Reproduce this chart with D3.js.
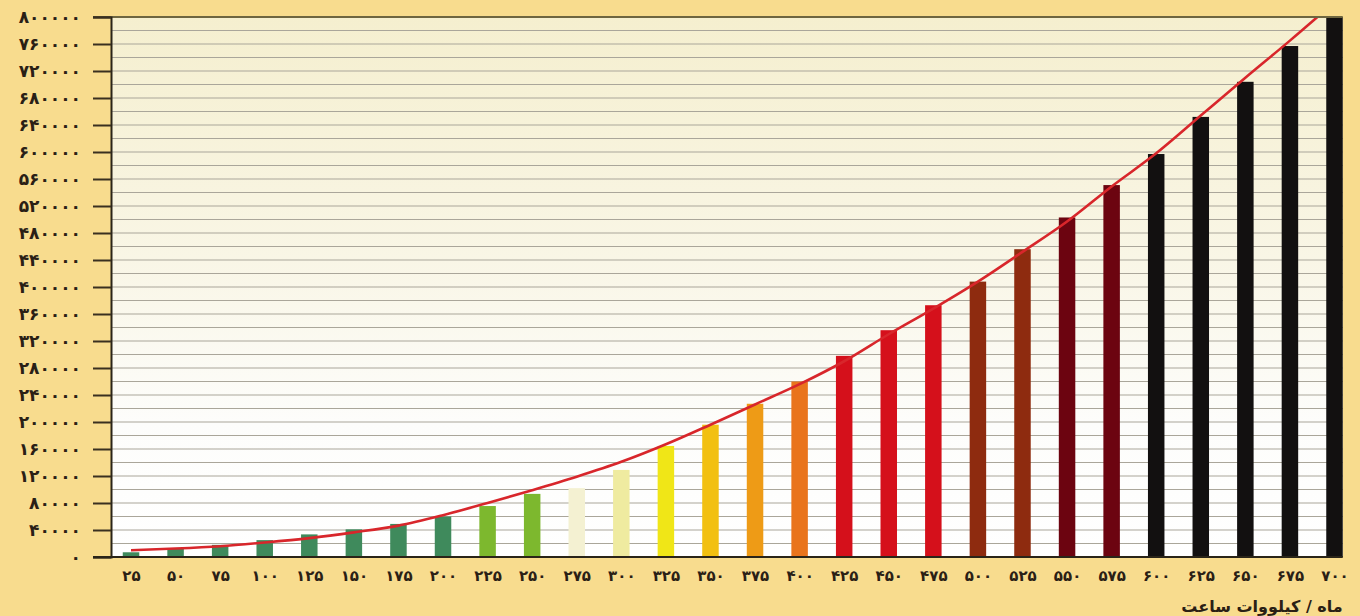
<!DOCTYPE html>
<html>
<head>
<meta charset="utf-8">
<script src="https://cdn.jsdelivr.net/npm/d3@7"></script>
<style>
  html, body { margin: 0; padding: 0; background: #f8dc8e; }
  svg { display: block; }
  text { font-family: "DejaVu Sans", "Noto Sans", sans-serif; font-weight: bold; fill: #2a2015; }
</style>
</head>
<body>
<svg id="chart" width="1360" height="616"></svg>
<script>
// ---- data ----
const categories = [25, 50, 75, 100, 125, 150, 175, 200, 225, 250, 275, 300, 325, 350,
                    375, 400, 425, 450, 475, 500, 525, 550, 575, 600, 625, 650, 675, 700];
const barValues = [7000, 12000, 18000, 25000, 33500, 41000, 49000, 60000, 75500, 93500,
                   102000, 129000, 164500, 196000, 227000, 260000, 298000, 336000, 373000, 408000,
                   456000, 503000, 551000, 597000, 652000, 704000, 757000, 800000];
const curveValues = [10000, 12500, 16000, 21500, 28000, 36500, 46500, 62000, 80000, 99000,
                     119000, 141000, 167000, 196000, 226000, 256000, 290000, 330000, 368000, 408000,
                     452000, 497000, 549000, 598000, 654000, 710000, 765000, 822000];
const barColors = ["#3f8a5c", "#3f8a5c", "#3f8a5c", "#3f8a5c", "#3f8a5c", "#3f8a5c", "#3f8a5c", "#3f8a5c",
                   "#7db82e", "#7db82e", "#f4f1d2", "#efeba0", "#f0e617", "#f2c011", "#ee9b16", "#e9741c",
                   "#d5101b", "#d5101b", "#d5101b", "#8e2b0f", "#8e2b0f", "#6c0410", "#6c0410",
                   "#121010", "#121010", "#121010", "#121010", "#121010"];
const yTicks = d3.range(0, 800001, 40000);
const yGrid = d3.range(0, 800001, 20000);
const axisTitle = "ماه / کیلووات ساعت";

// ---- helpers ----
const fa = s => String(s).replace(/\d/g, d => "۰۱۲۳۴۵۶۷۸۹"[d]);

// ---- layout ----
const svg = d3.select("#chart");
const plotLeft = 111, plotTop = 17, plotBottom = 557;

const x = d3.scalePoint().domain(categories).range([131, 1334.5]);
const barW = x.step() * 0.37;
const plotRight = x(700) + barW / 2;
const y = d3.scaleLinear().domain([0, 800000]).range([plotBottom, plotTop]);

// gradient background
const defs = svg.append("defs");
const grad = defs.append("linearGradient").attr("id", "bg").attr("x1", 0).attr("y1", 0).attr("x2", 0).attr("y2", 1);
grad.append("stop").attr("offset", "0%").attr("stop-color", "#f5efcf");
grad.append("stop").attr("offset", "45%").attr("stop-color", "#f9f6e6");
grad.append("stop").attr("offset", "75%").attr("stop-color", "#fdfdfb");
grad.append("stop").attr("offset", "100%").attr("stop-color", "#ffffff");
defs.append("clipPath").attr("id", "clip").append("rect")
  .attr("x", plotLeft).attr("y", plotTop).attr("width", plotRight - plotLeft).attr("height", plotBottom - plotTop);

svg.append("rect").attr("x", plotLeft).attr("y", plotTop)
  .attr("width", plotRight - plotLeft).attr("height", plotBottom - plotTop)
  .attr("fill", "url(#bg)");

// grid lines
svg.append("g").selectAll("line").data(yGrid.filter(v => v > 0 && v < 800000)).join("line")
  .attr("x1", plotLeft).attr("x2", plotRight)
  .attr("y1", d => y(d)).attr("y2", d => y(d))
  .attr("stroke", "#aaa69a").attr("stroke-width", 1.2);

// bars
svg.append("g").selectAll("rect").data(categories).join("rect")
  .attr("x", d => x(d) - barW / 2)
  .attr("width", barW)
  .attr("y", (d, i) => y(barValues[i]))
  .attr("height", (d, i) => plotBottom - y(barValues[i]))
  .attr("fill", (d, i) => barColors[i]);

// curve
const line = d3.line()
  .x((d, i) => x(categories[i]))
  .y(d => y(d))
  .curve(d3.curveMonotoneX);
svg.append("path").datum(curveValues)
  .attr("clip-path", "url(#clip)")
  .attr("d", line)
  .attr("fill", "none")
  .attr("stroke", "#d8262b")
  .attr("stroke-width", 2.6);

// top line
svg.append("line").attr("x1", 93).attr("x2", plotRight).attr("y1", y(800000)).attr("y2", y(800000))
  .attr("stroke", "#6e6640").attr("stroke-width", 2);

// y axis
const yAxis = d3.axisLeft(y).tickValues(yTicks).tickSize(18).tickPadding(12).tickFormat(d => fa(d));
const gy = svg.append("g").attr("transform", `translate(${plotLeft},0)`).call(yAxis);
gy.select(".domain").attr("stroke", "#2a2418").attr("stroke-width", 2);
gy.selectAll(".tick line").attr("stroke", "#3a3020").attr("stroke-width", 2);
gy.selectAll(".tick text").attr("font-size", 17).attr("font-family", "DejaVu Sans").attr("font-weight", "bold")
  .attr("fill", "#2a2015").attr("letter-spacing", "2.5px");

// x axis
const xAxis = d3.axisBottom(x).tickSize(0).tickPadding(13).tickFormat(d => fa(d));
const gx = svg.append("g").attr("transform", `translate(0,${plotBottom})`).call(xAxis);
gx.select(".domain").remove();
gx.selectAll(".tick text").attr("font-size", 15).attr("font-family", "DejaVu Sans").attr("font-weight", "bold")
  .attr("fill", "#2a2015").attr("letter-spacing", "2px");
svg.append("line").attr("x1", 93).attr("x2", plotRight).attr("y1", plotBottom).attr("y2", plotBottom)
  .attr("stroke", "#2a2418").attr("stroke-width", 2);

// axis title
svg.append("text").attr("x", plotRight).attr("y", 612)
  .attr("font-size", 16).attr("direction", "rtl").attr("text-anchor", "start")
  .text(axisTitle);
</script>
</body>
</html>
